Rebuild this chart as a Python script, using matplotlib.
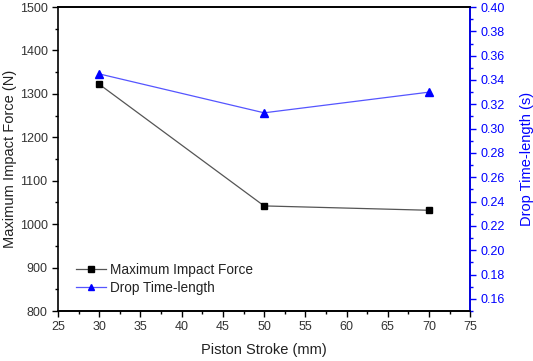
import matplotlib
matplotlib.use("Agg")
import matplotlib.pyplot as plt
from matplotlib.ticker import MultipleLocator
from matplotlib.lines import Line2D

plt.rcParams['font.family'] = ['Liberation Sans', 'DejaVu Sans']

stroke = [30, 50, 70]
impact_force = [1322, 1042, 1032]
drop_time = [0.345, 0.313, 0.330]

fig = plt.figure(figsize=(5.33, 3.61), dpi=100)
ax = fig.add_axes([0.109, 0.1385, 0.773, 0.842])
ax2 = ax.twinx()

l1, = ax.plot(stroke, impact_force, color='#555555', lw=0.9, marker='s', ms=5,
              mfc='black', mec='black', label='Maximum Impact Force')
l2, = ax2.plot(stroke, drop_time, color='#5555ff', lw=0.9, marker='^', ms=6,
               mfc='blue', mec='blue', label='Drop Time-length')

ax.set_xlim(25, 75)
ax.set_ylim(800, 1500)
ax2.set_ylim(0.15, 0.40)

ax.xaxis.set_major_locator(MultipleLocator(5))
ax.xaxis.set_minor_locator(MultipleLocator(2.5))
ax.yaxis.set_major_locator(MultipleLocator(100))
ax.yaxis.set_minor_locator(MultipleLocator(50))
ax2.set_yticks([0.16, 0.18, 0.20, 0.22, 0.24, 0.26, 0.28, 0.30, 0.32, 0.34, 0.36, 0.38, 0.40])
ax2.yaxis.set_minor_locator(MultipleLocator(0.01))
ax2.yaxis.set_major_formatter(matplotlib.ticker.FormatStrFormatter('%.2f'))

for a in (ax, ax2):
    for s in a.spines.values():
        s.set_linewidth(1.2)
ax2.spines['right'].set_color('blue')
ax2.spines['left'].set_visible(False)

ax.tick_params(which='both', direction='out', labelsize=9, labelcolor='#333333', width=1)
ax.tick_params(which='major', length=4)
ax.tick_params(which='minor', length=2.5)
ax2.tick_params(which='both', direction='out', labelsize=9, colors='blue', width=1)
ax2.tick_params(which='major', length=4)
ax2.tick_params(which='minor', length=2.5)

ax.set_xlabel('Piston Stroke (mm)', fontsize=10.5, color='#222222', labelpad=7)
ax.set_ylabel('Maximum Impact Force (N)', fontsize=10.5, color='#222222', labelpad=2)
ax2.set_ylabel('Drop Time-length (s)', fontsize=10.5, color='blue', labelpad=11)

h1 = Line2D([], [], color='#555555', lw=0.9, marker='s', ms=4, mfc='black', mec='black')
h2 = Line2D([], [], color='#5555ff', lw=0.9, marker='^', ms=5, mfc='blue', mec='blue')
leg = ax.legend([h1, h2], ['Maximum Impact Force', 'Drop Time-length'], loc='lower left',
                bbox_to_anchor=(0.03, 0.035), frameon=False, fontsize=9.8, handlelength=2.2,
                handletextpad=0.3, labelspacing=0.3, borderaxespad=0)
for t in leg.get_texts():
    t.set_color('#222222')

fig.savefig('out.png', dpi=100)
